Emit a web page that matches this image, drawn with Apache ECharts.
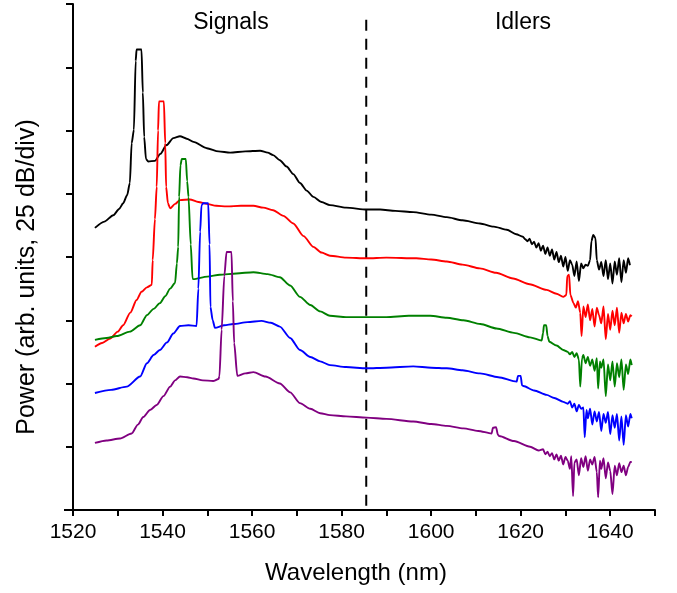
<!DOCTYPE html>
<html>
<head>
<meta charset="utf-8">
<script src="https://cdn.jsdelivr.net/npm/echarts@6/dist/echarts.min.js"></script>
<style>html,body{margin:0;padding:0;background:#fff}#c{width:677px;height:593px}</style>
</head>
<body>
<div id="c"></div>
<script>
// ---- data (wavelength nm, power in divisions, offset spectra) ----
const xTicks = [1520, 1540, 1560, 1580, 1600, 1620, 1640];
const regionLabels = ['Signals', 'Idlers'];
const dividerX = [[1585.5, 7.75], [1585.5, 0]];

const black = [[1524.9,4.46],[1527,4.56],[1529,4.66],[1530.3,4.76],[1531.2,4.85],[1532.1,4.98],[1532.7,5.17],[1533.1,5.80],[1533.6,6.01],[1534.0,7.10],[1534.2,7.28],[1535.3,7.28],[1535.6,6.6],[1535.9,5.9],[1536.3,5.55],[1536.8,5.51],[1538.3,5.52],[1539.5,5.63],[1540.9,5.77],[1542.4,5.88],[1543.9,5.91],[1545.4,5.87],[1546.9,5.82],[1549.9,5.72],[1552.5,5.67],[1555.1,5.65],[1558.5,5.67],[1561.8,5.68],[1563.5,5.65],[1564.7,5.61],[1566.2,5.53],[1567.7,5.43],[1569.2,5.31],[1570.7,5.17],[1572.2,5.05],[1573.7,4.95],[1575.5,4.87],[1577.4,4.82],[1581,4.78],[1585.6,4.75],[1588.6,4.75],[1592,4.73],[1596,4.71],[1600,4.67],[1603.5,4.63],[1607,4.58],[1610.9,4.53],[1614,4.48],[1616.9,4.43],[1619,4.36],[1620.5,4.32],
[1621,4.28],[1621.5,4.25],[1622,4.29],[1622.5,4.20],[1623,4.24],[1623.5,4.15],[1624,4.22],[1624.5,4.10],[1625,4.18],[1625.5,4.05],[1626,4.15],[1626.5,4.02],[1627,4.12],[1627.5,3.96],[1628,4.08],[1628.5,3.92],[1629,4.02],[1629.5,3.85],[1630,4.00],[1630.5,3.78],[1631,3.95],[1631.5,3.88],[1632,3.70],[1632.5,3.93],[1633,3.62],[1633.5,3.90],[1634,3.82],[1634.5,3.88],[1635,3.86],[1635.5,3.95],[1635.8,4.25],[1636.2,4.35],[1636.7,4.30],[1637.0,3.95],[1637.5,3.80],[1638,3.92],[1638.5,3.70],[1639,3.95],[1639.5,3.65],[1640,3.90],[1640.5,3.58],[1641,3.93],[1641.5,3.72],[1642,3.98],[1642.5,3.60],[1643,3.95],[1643.5,3.75],[1644,3.98],[1644.4,3.87]];

const red = [[1524.9,2.58],[1526.5,2.64],[1528.3,2.71],[1530,2.82],[1531.2,2.92],[1532.8,3.12],[1534.2,3.32],[1535.3,3.45],[1536.5,3.52],[1537.6,3.56],[1537.8,3.95],[1538.3,4.6],[1538.7,5.11],[1539.0,6.0],[1539.2,6.46],[1540.3,6.46],[1540.6,5.8],[1540.8,5.11],[1541.2,4.85],[1541.7,4.77],[1542.8,4.84],[1543.9,4.90],[1546.1,4.91],[1548,4.87],[1549.9,4.84],[1552,4.81],[1554.3,4.80],[1557.5,4.81],[1560.3,4.81],[1562.5,4.78],[1564.7,4.74],[1567,4.65],[1569.2,4.53],[1571.5,4.33],[1573.7,4.16],[1575.5,4.07],[1577.4,4.02],[1581,3.99],[1585.6,3.98],[1590,3.99],[1596.7,3.98],[1600,3.96],[1603.5,3.93],[1607,3.88],[1610.9,3.82],[1614.5,3.75],[1618.3,3.66],[1622,3.57],[1625.8,3.48],[1628,3.42],[1629.5,3.37],[1630.2,3.40],[1630.4,3.70],[1630.8,3.72],[1631.1,3.40],[1631.8,3.27],
[1632.3,3.20],[1632.8,3.30],[1633.3,3.12],[1633.6,2.75],[1634,3.22],[1634.5,3.05],[1635,3.25],[1635.5,3.00],[1636,3.18],[1636.5,2.90],[1637,3.20],[1637.5,3.08],[1638,2.95],[1638.5,3.22],[1639,2.70],[1639.5,3.10],[1640,2.85],[1640.5,3.15],[1641,2.92],[1641.5,3.20],[1642,2.80],[1642.5,3.12],[1643,2.95],[1643.5,3.10],[1644,2.98],[1644.5,3.08],[1644.8,3.06]];

const green = [[1524.9,2.69],[1527.5,2.72],[1529.8,2.75],[1532.7,2.82],[1535,2.92],[1536.5,3.08],[1538,3.18],[1539.4,3.27],[1540.6,3.38],[1541.7,3.50],[1542.8,3.59],[1543.2,3.90],[1543.5,4.16],[1543.7,4.95],[1544.0,5.45],[1544.3,5.55],[1545.2,5.55],[1545.5,5.2],[1545.8,4.95],[1546.3,4.2],[1546.7,3.66],[1546.9,3.65],[1550,3.69],[1552.8,3.72],[1556.5,3.74],[1560.3,3.76],[1563.5,3.73],[1566.2,3.68],[1568.5,3.55],[1570.7,3.37],[1573,3.24],[1575.2,3.14],[1577.4,3.07],[1581,3.05],[1585.6,3.05],[1590,3.05],[1595,3.07],[1599.8,3.07],[1603.5,3.04],[1607.2,3.00],[1611,2.94],[1614.6,2.87],[1618.5,2.80],[1622.1,2.73],[1624.7,2.68],[1625.0,2.80],[1625.2,2.92],[1625.7,2.92],[1626.0,2.75],[1626.4,2.66],[1628,2.60],[1629.5,2.53],[1630.5,2.50],[1631,2.46],[1631.5,2.50],
[1632,2.42],[1632.5,2.48],[1633,2.38],[1633.3,1.95],[1633.7,2.40],[1634,2.45],[1634.5,2.32],[1635,2.42],[1635.5,2.28],[1636,2.38],[1636.5,2.20],[1637,2.40],[1637.3,1.92],[1637.7,2.35],[1638,2.25],[1638.5,2.38],[1639,1.80],[1639.5,2.30],[1640,2.05],[1640.5,2.35],[1641,1.95],[1641.5,2.32],[1642,2.10],[1642.5,2.38],[1643,1.90],[1643.5,2.30],[1644,2.15],[1644.5,2.38],[1644.8,2.29]];

const blue = [[1524.9,1.85],[1528.5,1.90],[1532,1.95],[1535,2.11],[1536.5,2.32],[1538,2.45],[1539.4,2.53],[1541,2.65],[1542.4,2.79],[1543.9,2.91],[1545.8,2.92],[1547.6,2.91],[1548.0,3.5],[1548.4,4.4],[1548.7,4.82],[1549.1,4.85],[1550.2,4.85],[1550.5,4.2],[1550.7,3.21],[1551.2,3.0],[1551.7,2.88],[1553.8,2.92],[1555.8,2.94],[1559,2.97],[1562.1,2.99],[1564.2,2.96],[1566.2,2.90],[1568.5,2.72],[1570.7,2.53],[1573,2.42],[1575.2,2.35],[1577.4,2.29],[1581,2.26],[1585.6,2.24],[1590,2.25],[1596,2.27],[1600,2.25],[1603.5,2.24],[1607,2.21],[1610.9,2.16],[1615,2.10],[1619.1,2.03],[1619.4,2.12],[1620.0,2.12],[1620.3,1.97],[1620.6,1.96],[1623,1.89],[1625.8,1.82],[1627.5,1.77],[1629.5,1.71],[1630.5,1.68],[1631,1.72],[1631.5,1.62],[1632,1.68],[1632.5,1.56],[1633,1.66],[1633.5,1.60],
[1634,1.62],[1634.3,1.15],[1634.7,1.58],[1635,1.45],[1635.5,1.60],[1636,1.35],[1636.5,1.56],[1637,1.40],[1637.5,1.55],[1638,1.25],[1638.5,1.52],[1639,1.38],[1639.5,1.55],[1640,1.20],[1640.5,1.50],[1641,1.30],[1641.5,1.52],[1642,1.10],[1642.5,1.48],[1643,1.03],[1643.5,1.50],[1644,1.32],[1644.5,1.52],[1644.8,1.45]];

const purple = [[1524.9,1.06],[1527.5,1.10],[1530.5,1.13],[1533.1,1.21],[1534.5,1.35],[1535.7,1.47],[1537.2,1.58],[1538.7,1.66],[1540.2,1.80],[1541.7,1.95],[1542.8,2.05],[1543.9,2.11],[1545.5,2.10],[1546.9,2.08],[1549,2.05],[1551.3,2.04],[1552.5,2.07],[1552.7,2.11],[1553.2,2.85],[1553.8,3.7],[1554.3,4.08],[1555.4,4.08],[1555.7,3.3],[1556,2.64],[1556.7,2.12],[1558.5,2.16],[1560.3,2.18],[1563,2.11],[1566.2,2.00],[1568.5,1.86],[1570.7,1.69],[1573,1.60],[1575.2,1.53],[1577.4,1.50],[1581,1.48],[1585.6,1.46],[1590,1.44],[1596,1.40],[1600,1.36],[1603.5,1.33],[1607.2,1.29],[1610.5,1.25],[1613.5,1.21],[1613.8,1.30],[1614.5,1.31],[1614.9,1.19],[1615.2,1.17],[1618.5,1.09],[1622.1,1.00],[1624,0.94],[1625,0.96],[1625.5,0.88],[1626,0.92],
[1626.5,0.85],[1627,0.90],[1627.5,0.80],[1628,0.88],[1628.5,0.78],[1629,0.86],[1629.5,0.72],[1630,0.84],[1630.5,0.78],[1631,0.65],[1631.3,0.85],[1631.7,0.22],[1632,0.75],[1632.5,0.80],[1633,0.55],[1633.5,0.82],[1634,0.68],[1634.5,0.85],[1635,0.62],[1635.5,0.80],[1636,0.72],[1636.5,0.84],[1637,0.60],[1637.3,0.20],[1637.7,0.78],[1638,0.65],[1638.5,0.82],[1639,0.50],[1639.5,0.75],[1640,0.62],[1640.5,0.25],[1641,0.70],[1641.5,0.55],[1642,0.74],[1642.5,0.60],[1643,0.70],[1643.5,0.55],[1644,0.68],[1644.5,0.76],[1644.8,0.76]];

const seriesList = [
  {name: 'black', data: black, color: '#000000'},
  {name: 'red', data: red, color: '#ff0000'},
  {name: 'green', data: green, color: '#008000'},
  {name: 'blue', data: blue, color: '#0000ff'},
  {name: 'purple', data: purple, color: '#800080'}
];

const FONT = '"Liberation Sans", Arial, sans-serif';
const chart = echarts.init(document.getElementById('c'), null, {renderer: 'canvas'});

const series = seriesList.map(s => ({
  type: 'line', name: s.name, data: s.data, showSymbol: false, symbol: 'none',
  smooth: 0.25, smoothMonotone: 'x',
  lineStyle: {color: s.color, width: 1.9}, animation: false, z: 3
}));
series.push({
  type: 'line', name: 'divider', data: dividerX, showSymbol: false, symbol: 'none',
  lineStyle: {color: '#000', width: 2, type: [11, 8]}, animation: false, z: 2
});

chart.setOption({
  animation: false,
  backgroundColor: '#fff',
  grid: {left: 73, right: 22, top: 4, bottom: 83, containLabel: false},
  xAxis: {
    type: 'value', min: 1520, max: 1650, interval: 10,
    axisLine: {show: true, onZero: false, lineStyle: {color: '#000', width: 2}},
    axisTick: {show: true, inside: false, length: 6, lineStyle: {color: '#000', width: 2}},
    splitLine: {show: false},
    axisLabel: {
      color: '#000', fontSize: 21, fontFamily: FONT, margin: 12,
      formatter: v => (xTicks.indexOf(v) >= 0 ? String(v) : '')
    }
  },
  yAxis: {
    type: 'value', min: 0, max: 8, interval: 1,
    axisLine: {show: true, onZero: false, lineStyle: {color: '#000', width: 2}},
    axisTick: {show: true, inside: false, length: 7, lineStyle: {color: '#000', width: 2}},
    axisLabel: {show: false},
    splitLine: {show: false}
  },
  graphic: [
    {type: 'line', shape: {x1: 64, y1: 510, x2: 73, y2: 510}, style: {stroke: '#000', lineWidth: 2}},
    {type: 'text', x: 231, y: 23, style: {text: regionLabels[0], fill: '#000', font: '23px ' + FONT, align: 'center', verticalAlign: 'middle'}},
    {type: 'text', x: 523, y: 23, style: {text: regionLabels[1], fill: '#000', font: '23px ' + FONT, align: 'center', verticalAlign: 'middle'}},
    {type: 'text', x: 356, y: 573, style: {text: 'Wavelength (nm)', fill: '#000', font: '24px ' + FONT, align: 'center', verticalAlign: 'middle'}},
    {type: 'text', x: 27, y: 277, rotation: Math.PI / 2, style: {text: 'Power (arb. units, 25 dB/div)', fill: '#000', font: '25px ' + FONT, align: 'center', verticalAlign: 'middle'}}
  ],
  series: series
});
</script>
</body>
</html>
